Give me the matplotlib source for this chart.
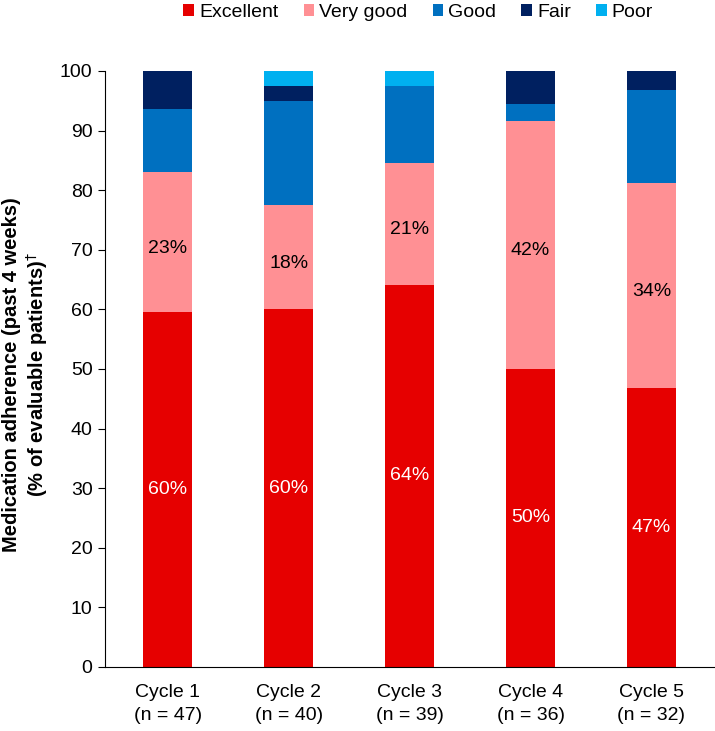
import numpy as np
import matplotlib.pyplot as plt

plt.rcParams['font.family'] = ['Liberation Sans', 'DejaVu Sans']

cycles = ["Cycle 1\n(n = 47)", "Cycle 2\n(n = 40)", "Cycle 3\n(n = 39)",
          "Cycle 4\n(n = 36)", "Cycle 5\n(n = 32)"]
categories = ["Excellent", "Very good", "Good", "Fair", "Poor"]
# patient counts per response category for each cycle
n_total = np.array([47, 40, 39, 36, 32])
excellent = np.array([28, 24, 25, 18, 15])
very_good = np.array([11, 7, 8, 15, 11])
good = np.array([5, 7, 5, 1, 5])
fair = np.array([3, 1, 0, 2, 1])
poor = np.array([0, 1, 1, 0, 0])
colors = ["#E60000", "#FF9094", "#0070C0", "#002060", "#00B0F0"]

series = [excellent, very_good, good, fair, poor]
pct = [s / n_total * 100 for s in series]

fig = plt.figure(figsize=(7.15, 7.31), dpi=100)
ax = fig.add_axes([0.147, 0.0876, 0.852, 0.8154])

x = np.arange(len(cycles))
bottom = np.zeros(len(cycles))
for p, c, name in zip(pct, colors, categories):
    ax.bar(x, p, 0.405, bottom=bottom, color=c, label=name)
    bottom = bottom + p

# percentage labels, centred in the two lower segments
for i in range(len(cycles)):
    ax.text(x[i], pct[0][i] / 2, f"{pct[0][i]:.0f}%", ha="center", va="center",
            color="white", fontsize=14)
    mid = pct[0][i] + pct[1][i] / 2 - 1
    ax.text(x[i], mid, f"{pct[1][i]:.0f}%", ha="center", va="center",
            color="black", fontsize=14)

ax.set_xlim(-0.52, 4.52)
ax.set_ylim(0, 100)
ax.set_yticks(np.arange(0, 101, 10))
ax.set_xticks(x)
ax.set_xticklabels(cycles, fontsize=14, linespacing=1.5)
ax.tick_params(axis="y", labelsize=14, length=5, direction="out", pad=4)
ax.tick_params(axis="x", length=0, pad=12)
ax.spines["top"].set_visible(False)
ax.spines["right"].set_visible(False)
ax.set_ylabel("Medication adherence (past 4 weeks)\n(% of evaluable patients)$^{\\dagger}$",
              fontsize=14.5, fontweight="bold", linespacing=1.15)
ax.yaxis.set_label_coords(-0.09, 0.49)

fig.legend(loc="center", bbox_to_anchor=(0.585, 0.983), ncol=5, frameon=False,
           fontsize=14, handlelength=0.55, handleheight=0.55, handletextpad=0.25,
           columnspacing=1.3, borderpad=0)

fig.savefig("out.png", dpi=100)
